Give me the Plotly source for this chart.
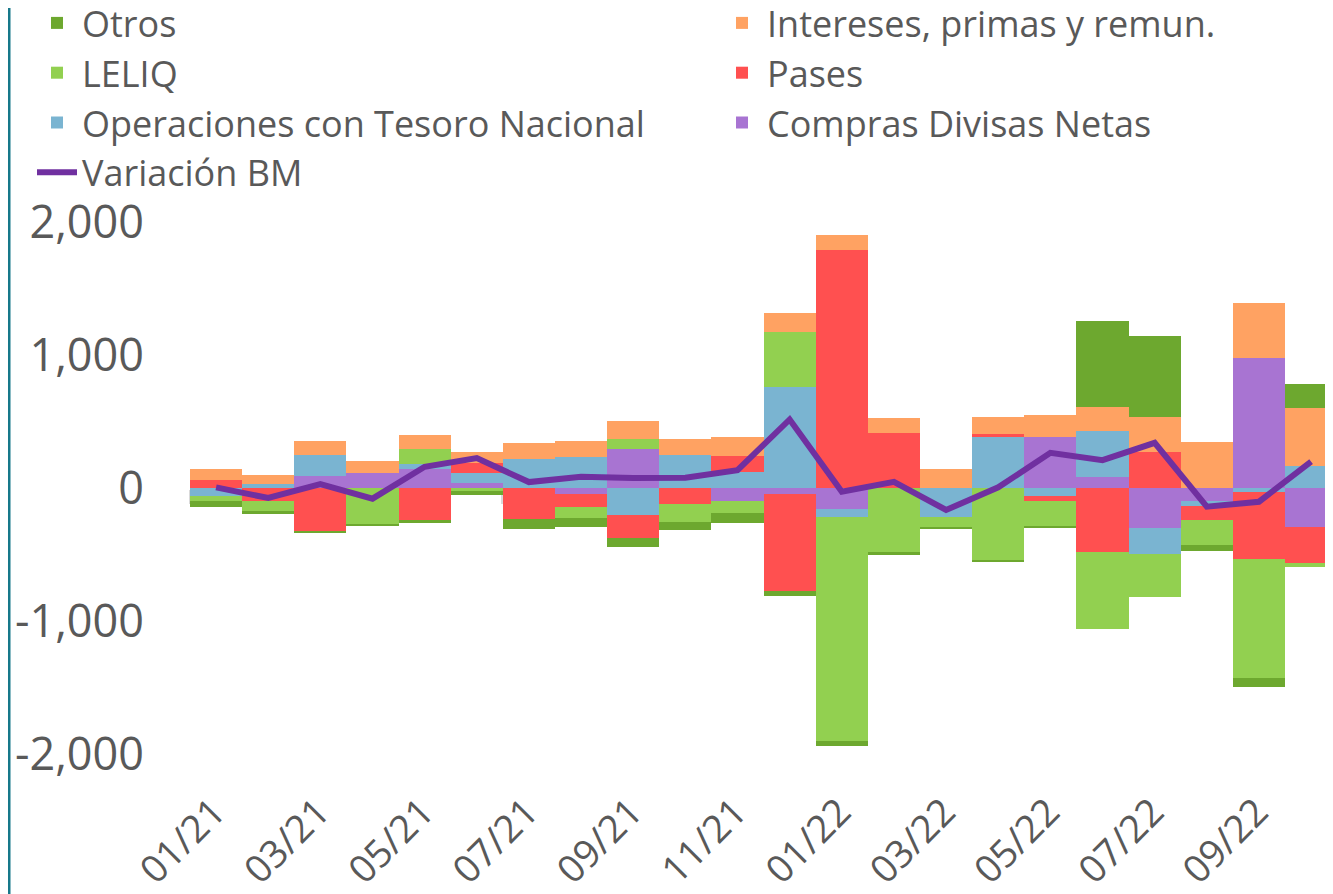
import plotly.graph_objects as go

months = ["01/21", "02/21", "03/21", "04/21", "05/21", "06/21", "07/21", "08/21",
          "09/21", "10/21", "11/21", "12/21", "01/22", "02/22", "03/22", "04/22",
          "05/22", "06/22", "07/22", "08/22", "09/22", "10/22"]
tick_labels = months[::2]

compras = [0, 0, 90, 110, 143, 40, 0, -43, 293, 0, -100, -45, -160, 0, 0, 0, 381, 85, -303, -100, 982, -291]
operaciones = [-60, 30, 158, 0, 37, 70, 216, 230, -203, 248, 123, 757, -58, 0, -220, 381, -62, 343, -193, -37, -30, 165]
pases = [60, -100, -323, 0, -240, 75, -235, -97, -175, -120, 118, -732, 1795, 411, 0, 25, -33, -483, 273, -106, -506, -271]
leliq = [-38, -75, 0, -278, 111, -25, 0, -88, 73, -133, -87, 418, -1689, -479, -80, -547, -193, -576, -321, -183, -895, -34]
intereses = [83, 70, 105, 93, 107, 88, 125, 123, 138, 118, 140, 143, 112, 115, 143, 130, 168, 183, 263, 346, 411, 434]
otros = [-42, -18, -17, -10, -25, -30, -73, -63, -63, -63, -75, -33, -33, -25, -10, -12, -12, 647, 607, -50, -68, 183]
variacion_bm = [5, -75, 30, -80, 160, 225, 45, 85, 75, 78, 135, 516, -28, 47, -165, 5, 265, 210, 340, -140, -103, 198]

y_ticks = [-2000, -1000, 0, 1000, 2000]
y_tick_text = ["-2,000", "-1,000", "0", "1,000", "2,000"]
y_range = [-2250, 2100]

TEXT = "#595959"
FONT = "Open Sans"
W, H = 1333, 894
# the page adds an 8px body margin, so the figure is offset by 8px
ML, MR, MT, MB = 182, 8, 201, 115
PW, PH = W - ML - MR, H - MT - MB

# (name, values, colour, legend column, rank)
series = [
    ("Compras Divisas Netas", compras, "#A874D2", "legend2", 3),
    ("Operaciones con Tesoro Nacional", operaciones, "#7AB4D1", "legend", 3),
    ("Pases", pases, "#FF5050", "legend2", 2),
    ("LELIQ", leliq, "#92D050", "legend", 2),
    ("Intereses, primas y remun.", intereses, "#FFA262", "legend2", 1),
    ("Otros", otros, "#6DA82F", "legend", 1),
]

fig = go.Figure()
for name, vals, color, leg, rank in series:
    fig.add_trace(go.Bar(x=months, y=vals, name=name, marker_color=color,
                         marker_line_width=0, legend=leg, legendrank=rank))

fig.add_trace(go.Scatter(x=months, y=variacion_bm, name="Variación BM", mode="lines",
                         line=dict(color="#7030A0", width=6), xaxis="x2",
                         legend="legend", legendrank=4))

zero_pos = (0 - y_range[0]) / (y_range[1] - y_range[0])
x_range = [-0.5, 21.42]

legend_top = 1 + (MT + 15) / PH
legend_common = dict(xref="container", yref="paper", xanchor="left", yanchor="top",
                     y=legend_top,
                     orientation="v", font=dict(size=36, color=TEXT, family=FONT),
                     itemwidth=40, traceorder="normal", bgcolor="rgba(0,0,0,0)",
                     tracegroupgap=0)

fig.update_layout(
    width=W, height=H,
    margin=dict(l=ML, r=MR, t=MT, b=MB, autoexpand=False),
    paper_bgcolor="white", plot_bgcolor="white",
    barmode="relative", bargap=0,
    font=dict(family=FONT, color=TEXT),
    showlegend=True,
    legend=dict(x=24 / W, **legend_common),
    legend2=dict(x=709 / W, **legend_common),
    xaxis=dict(type="category", categoryorder="array", categoryarray=months,
               range=x_range, tickmode="array", tickvals=tick_labels,
               ticktext=tick_labels, tickangle=-45, showgrid=False,
               showline=False, zeroline=False, ticks="",
               ticklabelstandoff=-6, ticklabelshift=-2,
               tickfont=dict(size=38, color=TEXT, family=FONT)),
    xaxis2=dict(type="category", categoryorder="array", categoryarray=months,
                overlaying="x", anchor="free", position=zero_pos,
                range=x_range, tickmode="array", tickvals=tick_labels,
                tickson="boundaries", ticks="outside", ticklen=14, tickwidth=3,
                tickcolor="#D9D9D9", showline=True, linecolor="#D9D9D9",
                linewidth=3, showticklabels=False, showgrid=False,
                zeroline=False, layer="below traces"),
    yaxis=dict(range=y_range, tickmode="array", tickvals=y_ticks, ticktext=y_tick_text,
               showgrid=False, zeroline=False, showline=False,
               ticklabelstandoff=45,
               tickfont=dict(size=45, color=TEXT, family=FONT)),
    shapes=[dict(type="line", xref="paper", yref="paper",
                 x0=-(ML - 1) / PW, x1=-(ML - 1) / PW, y0=-MB / PH, y1=1 + (MT + 10) / PH,
                 line=dict(color="#17788A", width=3))],
)

fig.write_html("out.html")
